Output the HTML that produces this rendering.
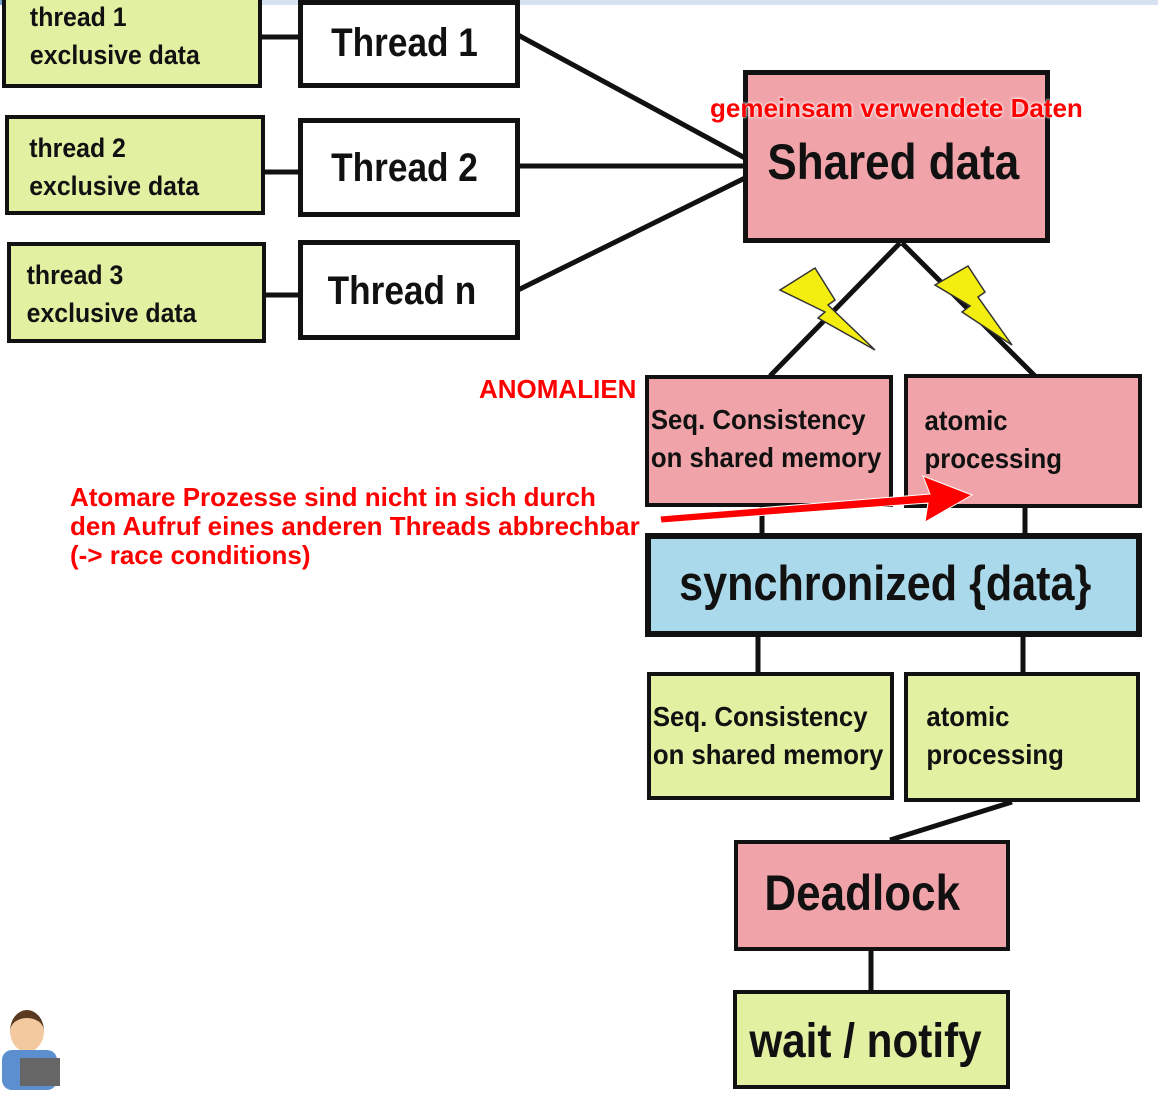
<!DOCTYPE html>
<html><head><style>
body{margin:0;width:1158px;height:1097px;background:#fff;position:relative;overflow:hidden;font-family:"Liberation Sans",sans-serif}
.b{position:absolute;box-sizing:border-box;border:4px solid #111;color:#111;font-weight:bold}
.g{background:#e2f0a2}.w{background:#fff;border-width:5px}.p{background:#f0a4aa}.bl{background:#a9d9ea;border-width:6px}
.r{position:absolute;color:#f00;font-weight:bold;font-size:26px;text-shadow:0 0 2px #fff,0 0 3px #fff;white-space:nowrap;line-height:29px}
.s{font-size:27px;line-height:38px;padding-left:22px;transform:scaleX(.88);transform-origin:left;white-space:nowrap}
.t{font-size:27px;line-height:38px;transform:scaleX(.92);transform-origin:left;white-space:nowrap}
</style></head><body>
<div style="position:absolute;left:0;top:0;width:1158px;height:5px;background:#d6e2f0"></div>
<div style="position:absolute;left:0;top:0;width:170px;height:5px;background:#7aa4d4"></div>
<svg style="position:absolute;left:0;top:0" width="1158" height="1097">
<g stroke="#111" stroke-width="5" fill="none">
<line x1="262" y1="37" x2="300" y2="37"/><line x1="265" y1="172" x2="300" y2="172"/><line x1="266" y1="295" x2="300" y2="295"/>
<line x1="518" y1="35" x2="745" y2="158"/><line x1="518" y1="166" x2="745" y2="166"/><line x1="518" y1="290" x2="745" y2="178"/>
<line x1="900" y1="243" x2="770" y2="376"/><line x1="902" y1="243" x2="1035" y2="376"/>
<line x1="762" y1="505" x2="762" y2="535"/><line x1="1025" y1="505" x2="1025" y2="535"/>
<line x1="758" y1="635" x2="758" y2="674"/><line x1="1023" y1="635" x2="1023" y2="674"/>
<line x1="1012" y1="802" x2="890" y2="840"/><line x1="871" y1="950" x2="871" y2="992"/>
</g>
<polygon points="780,290 815,268 835,300 828,305 875,350 818,318 825,312" fill="#f4ee10" stroke="#333" stroke-width="1.5"/>
<polygon points="935,285 968,266 985,292 978,297 1012,345 962,312 970,306" fill="#f4ee10" stroke="#333" stroke-width="1.5"/>
</svg>
<div class="b g" style="left:2px;top:-6px;width:260px;height:94px"><div class="t" style="padding-left:26px">thread 1<br>exclusive data</div></div>
<div class="b g" style="left:5px;top:115px;width:260px;height:100px"><div class="t" style="padding-top:10px;padding-left:22px">thread 2<br>exclusive data</div></div>
<div class="b g" style="left:7px;top:242px;width:259px;height:101px"><div class="t" style="padding-top:10px;padding-left:17px">thread 3<br>exclusive data</div></div>
<div class="b w" style="left:298px;top:0px;width:222px;height:88px"><div class="s" style="font-size:40px;line-height:76px;padding-left:32px">Thread 1</div></div>
<div class="b w" style="left:298px;top:118px;width:222px;height:99px"><div class="s" style="font-size:40px;line-height:90px;padding-left:32px">Thread 2</div></div>
<div class="b w" style="left:298px;top:240px;width:222px;height:100px"><div class="s" style="font-size:40px;line-height:92px;padding-left:28px">Thread n</div></div>
<div class="b p" style="left:743px;top:70px;width:307px;height:173px;border-width:5px"><div class="s" style="font-size:50px;line-height:50px;padding-top:62px;padding-left:22px">Shared data</div></div>
<div class="b p" style="left:645px;top:375px;width:248px;height:132px"><div class="t" style="padding-top:22px;padding-left:2px;font-size:28px">Seq. Consistency<br>on shared memory</div></div>
<div class="b p" style="left:904px;top:374px;width:238px;height:134px"><div class="t" style="padding-top:24px;padding-left:18px;font-size:28px">atomic<br>processing</div></div>
<div class="b bl" style="left:645px;top:533px;width:497px;height:104px"><div class="s" style="font-size:49px;line-height:90px;padding-left:32px">synchronized {data}</div></div>
<div class="b g" style="left:647px;top:672px;width:247px;height:128px"><div class="t" style="padding-top:22px;padding-left:2px;font-size:28px">Seq. Consistency<br>on shared memory</div></div>
<div class="b g" style="left:904px;top:672px;width:236px;height:130px"><div class="t" style="padding-top:22px;padding-left:20px;font-size:28px">atomic<br>processing</div></div>
<div class="b p" style="left:734px;top:840px;width:276px;height:111px"><div class="s" style="font-size:50px;line-height:98px;padding-left:30px">Deadlock</div></div>
<div class="b g" style="left:733px;top:990px;width:277px;height:99px"><div class="s" style="font-size:48px;line-height:96px;padding-left:14px">wait / notify</div></div>
<div class="r" style="left:710px;top:94px">gemeinsam verwendete Daten</div>
<div class="r" style="left:479px;top:375px">ANOMALIEN</div>
<div class="r" style="left:70px;top:483px">Atomare Prozesse sind nicht in sich durch<br>den Aufruf eines anderen Threads abbrechbar<br>(-&gt; race conditions)</div>
<svg style="position:absolute;left:0;top:0" width="1158" height="1097">
<polygon points="660,516 930,494 923,476 972,495 925,522 928,503 661,523" fill="#f00" stroke="#fff" stroke-width="1"/>
</svg>
<div style="position:absolute;left:2px;top:1010px;width:60px;height:80px;">
<div style="position:absolute;left:8px;top:0;width:34px;height:34px;border-radius:50%;background:#f3c9a0;border-top:8px solid #5a3a20"></div>
<div style="position:absolute;left:0;top:40px;width:55px;height:40px;background:#5c8fcf;border-radius:10px"></div>
<div style="position:absolute;left:18px;top:48px;width:40px;height:28px;background:#666"></div>
</div>
</body></html>
